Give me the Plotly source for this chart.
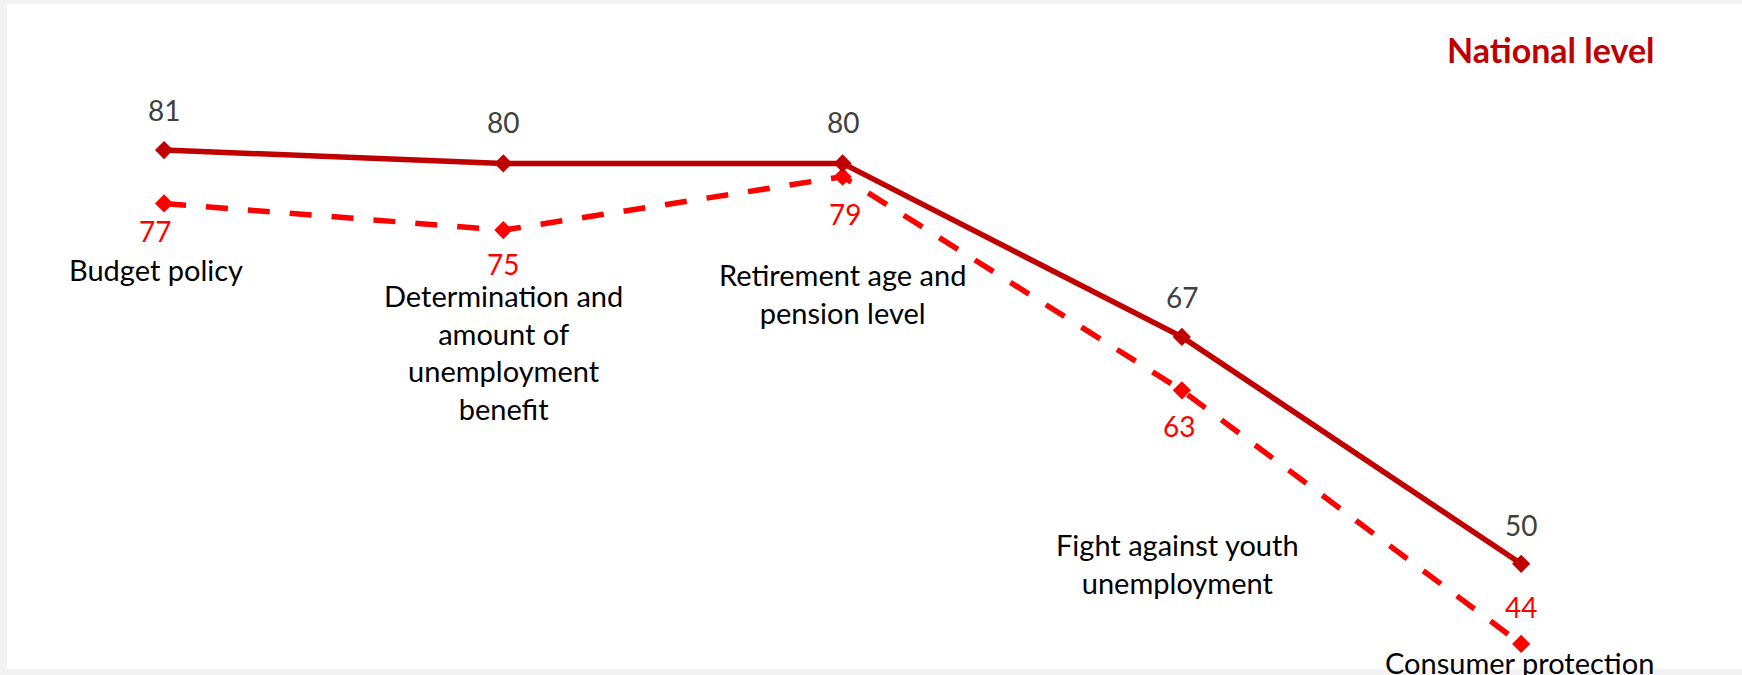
import plotly.graph_objects as go

# ---- data ----
categories = ["Budget policy", "Determination and amount of unemployment benefit",
              "Retirement age and pension level", "Fight against youth unemployment",
              "Consumer protection"]
category_labels = ["Budget policy", "Determination and<br>amount of<br>unemployment<br>benefit",
                   "Retirement age and<br>pension level", "Fight against youth<br>unemployment",
                   "Consumer protection"]
solid_values = [81, 80, 80, 67, 50]
dashed_values = [77, 75, 79, 63, 44]
title_text = "National level"

# ---- styling (label offsets in px) ----
solid_label_shift = [40, 41, 41, 40, 39]
dashed_label_shift = [-28, -34, -37, -36, 37]
dashed_label_xshift = [-9, 0, 2, -3, 0]
cat_label_shift = [-66, -122, -116.5, -173.5, -19]
cat_label_xshift = [-8.5, 0, 0, -4, -2]

FONT = "Lato, Roboto, sans-serif"
DARK_RED = "#c00000"
RED = "#ff0000"

fig = go.Figure()
fig.add_trace(go.Scatter(
    x=categories, y=dashed_values, mode="lines+markers",
    line=dict(color=RED, width=5.5, dash="22px,20px"),
    marker=dict(symbol="diamond", size=14, color=RED),
    cliponaxis=False, hoverinfo="skip", showlegend=False))
fig.add_trace(go.Scatter(
    x=categories, y=solid_values, mode="lines+markers",
    line=dict(color=DARK_RED, width=5.5),
    marker=dict(symbol="diamond", size=14, color=DARK_RED),
    cliponaxis=False, hoverinfo="skip", showlegend=False))

annotations = []
for i, c in enumerate(categories):
    annotations.append(dict(x=c, y=solid_values[i], text=str(solid_values[i]),
                            showarrow=False, yshift=solid_label_shift[i],
                            font=dict(family=FONT, size=28, color="#404040"),
                            xanchor="center", yanchor="middle"))
    annotations.append(dict(x=c, y=dashed_values[i], text=str(dashed_values[i]),
                            showarrow=False, yshift=dashed_label_shift[i],
                            xshift=dashed_label_xshift[i],
                            font=dict(family=FONT, size=28, color=RED),
                            xanchor="center", yanchor="middle"))
    annotations.append(dict(x=c, y=dashed_values[i], text=category_labels[i],
                            showarrow=False, yshift=cat_label_shift[i],
                            xshift=cat_label_xshift[i], align="center",
                            font=dict(family=FONT, size=29, color="#000000"),
                            xanchor="center", yanchor="middle"))

annotations.append(dict(xref="paper", yref="paper", x=0.8902, y=0.9323,
                        text="<b>" + title_text + "</b>", showarrow=False,
                        font=dict(family=FONT, size=34, color=DARK_RED),
                        xanchor="center", yanchor="middle"))

fig.update_layout(
    width=1742, height=675,
    margin=dict(l=7, r=0, t=4, b=6),
    paper_bgcolor="#f2f2f2", plot_bgcolor="#ffffff",
    xaxis=dict(type="category", range=[-0.463, 4.651], showgrid=False,
               zeroline=False, showticklabels=False, ticks="", showline=False),
    yaxis=dict(range=[42.12, 91.94], showgrid=False, zeroline=False,
               showticklabels=False, ticks="", showline=False),
    annotations=annotations,
)

fig.write_html(
    "out.html",
    config={"displayModeBar": False},
    post_script="document.body.style.margin='0px';document.body.style.overflow='hidden';"
                "document.body.style.background='#f2f2f2';",
)
